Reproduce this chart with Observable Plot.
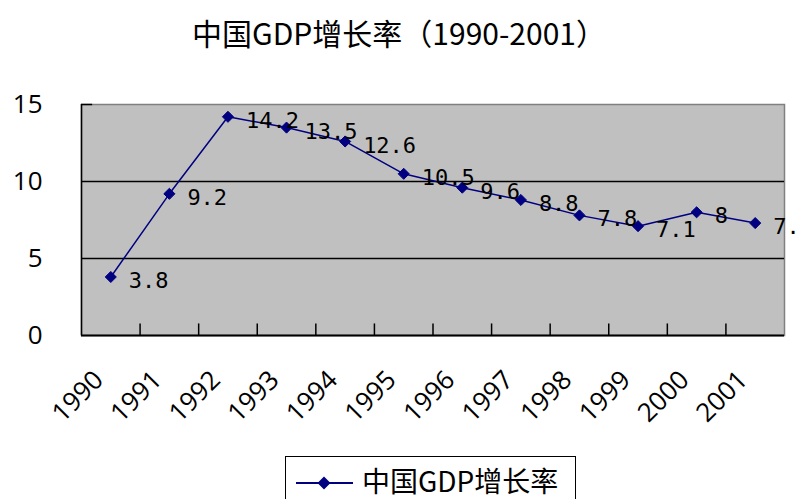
<!DOCTYPE html>
<html>
<head>
<meta charset="utf-8">
<script src="https://cdn.jsdelivr.net/npm/d3@7"></script>
<script src="https://cdn.jsdelivr.net/npm/@observablehq/plot@0.6"></script>
<style>
  html, body { margin: 0; padding: 0; background: #fff; }
  body { width: 798px; height: 499px; overflow: hidden; position: relative; }
  #title { position: absolute; left: 0; top: 11px; width: 798px; text-align: center;
           font-family: "Noto Sans CJK SC", sans-serif; font-size: 30px; color: #000; line-height: 42px; }
  #chart { position: absolute; left: 0; top: 60px; }
  #legend { position: absolute; left: 285px; top: 456px; width: 291px; height: 60px;
            border: 1px solid #000; box-sizing: border-box; background: #fff; }
  #legend svg { position: absolute; left: 0; top: 0; }
  #legend span { position: absolute; left: 76px; top: 8px; font-family: "Noto Sans CJK SC", sans-serif;
                 font-size: 28px; line-height: 30px; color: #000; white-space: nowrap; }
</style>
</head>
<body>
<div id="title">中国GDP增长率（1990-2001）</div>
<div id="chart"></div>
<div id="legend">
  <svg width="80" height="50">
    <line x1="10" y1="26" x2="67" y2="26" stroke="#000080" stroke-width="2"></line>
    <path d="M38,19.5 L44.5,26 L38,32.5 L31.5,26 Z" fill="#000080"></path>
  </svg>
  <span>中国GDP增长率</span>
</div>
<script>
const years = ["1990","1991","1992","1993","1994","1995","1996","1997","1998","1999","2000","2001"];
const growth = [3.8, 9.2, 14.2, 13.5, 12.6, 10.5, 9.6, 8.8, 7.8, 7.1, 8, 7.3];
const yTicks = [0, 5, 10, 15];
const seriesName = "中国GDP增长率";

const data = years.map((y, i) => ({i: i + 0.5, year: y, v: growth[i]}));

const chart = Plot.plot({
  width: 798,
  height: 390,
  marginLeft: 81,
  marginRight: 14,
  marginTop: 44,
  marginBottom: 115,
  x: {domain: [0, years.length], axis: null},
  y: {domain: [0, 15], axis: null},
  style: {background: "transparent", color: "#000", overflow: "visible"},
  marks: [
    Plot.frame({fill: "#c0c0c0", stroke: "#808080", strokeWidth: 1.5}),
    Plot.ruleY([5, 10], {stroke: "#000", strokeWidth: 1.5}),
    Plot.ruleY([15], {x1: 0, x2: 0.19, stroke: "#000", strokeWidth: 1.5}),
    Plot.ruleX(d3.range(1, years.length), {y1: 0, y2: 0.75, stroke: "#000", strokeWidth: 1.5}),
    Plot.ruleX([0], {stroke: "#000", strokeWidth: 1.5}),
    Plot.ruleY([0], {stroke: "#000", strokeWidth: 2}),
    Plot.line(data, {x: "i", y: "v", stroke: "#000080", strokeWidth: 1.5}),
    Plot.dot(data, {x: "i", y: "v", symbol: "diamond2", fill: "#000080", stroke: "#000080", strokeWidth: 1, r: 5}),
    Plot.text(data, {x: "i", y: "v", text: d => String(d.v), textAnchor: "start", dx: 18, dy: 4,
      fontSize: 22, fontFamily: "DejaVu Sans Mono", fill: "#000"}),
    Plot.axisY(yTicks, {tickSize: 0, tickPadding: 39, fontSize: 26, fontFamily: "Open Sans", fill: "#000", label: null}),
    Plot.axisX(data.map(d => d.i), {tickSize: 0, tickPadding: 40, tickRotate: -45, dx: -12, label: null,
      tickFormat: d => years[Math.floor(d)], fontSize: 26, fontFamily: "Open Sans", fill: "#000"})
  ]
});
document.getElementById("chart").appendChild(chart);
</script>
</body>
</html>
